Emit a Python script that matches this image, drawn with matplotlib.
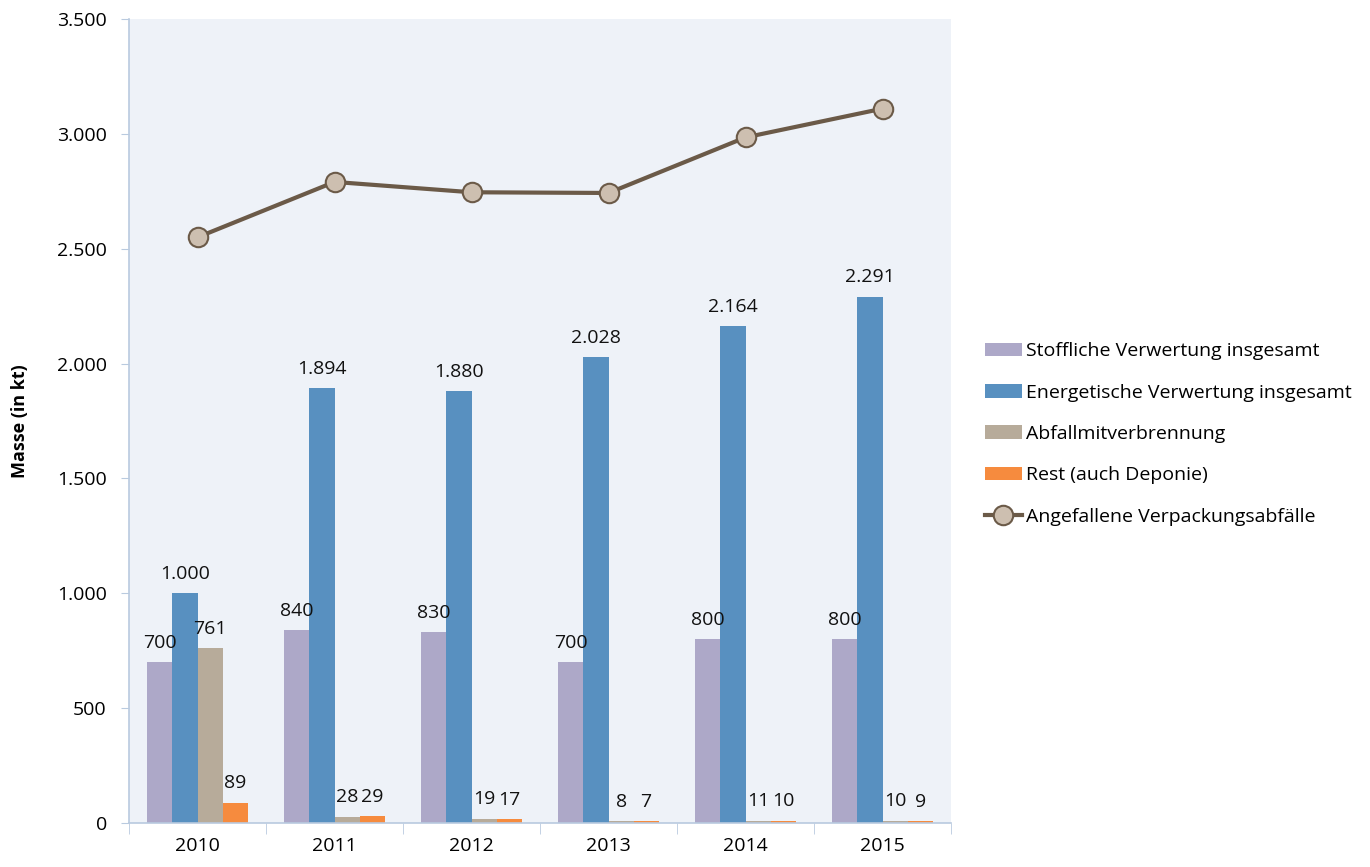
import numpy as np
import matplotlib.pyplot as plt
from matplotlib.ticker import FuncFormatter, FixedLocator

plt.rcParams['font.family'] = ['Open Sans', 'DejaVu Sans']

# data
years = ['2010', '2011', '2012', '2013', '2014', '2015']
stofflich = [700, 840, 830, 700, 800, 800]
energetisch = [1000, 1894, 1880, 2028, 2164, 2291]
abfallmit = [761, 28, 19, 8, 11, 10]
rest = [89, 29, 17, 7, 10, 9]
angefallen = [2550, 2791, 2746, 2743, 2985, 3110]

series = [
    ('Stoffliche Verwertung insgesamt', stofflich, '#ADA8C8'),
    ('Energetische Verwertung insgesamt', energetisch, '#5890C0'),
    ('Abfallmitverbrennung', abfallmit, '#B7AB9A'),
    ('Rest (auch Deponie)', rest, '#F68B3E'),
]
fs = 14

fig = plt.figure(figsize=(13.7, 8.67), dpi=100)
ax = fig.add_axes([0.0942, 0.0507, 0.6, 0.9273])
ax.set_facecolor('#EEF2F8')

x = np.arange(len(years))
w = 0.183
for k, (name, vals, col) in enumerate(series):
    pos = x + (k - 1.5) * w
    ax.bar(pos, vals, width=w, color=col, label=name, zorder=2)
    for p, v in zip(pos, vals):
        ax.text(p, v + 45, f'{v:,}'.replace(',', '.'), ha='center', va='bottom',
                fontsize=fs, color='#111111')

ax.plot(x, angefallen, color='#6B5A48', lw=3, marker='o', ms=14,
        markerfacecolor='#CDBFB0', markeredgecolor='#6B5A48', markeredgewidth=1.5,
        label='Angefallene Verpackungsabfälle', zorder=3)

ax.set_xlim(-0.5, 5.5)
ax.set_ylim(0, 3500)
ax.set_yticks(np.arange(0, 3501, 500))
ax.yaxis.set_major_formatter(FuncFormatter(lambda v, p: f'{int(v):,}'.replace(',', '.')))
ax.set_xticks(x)
ax.set_xticklabels(years)
ax.xaxis.set_minor_locator(FixedLocator(np.arange(-0.5, 6, 1)))
ax.tick_params(axis='x', which='major', length=0, labelsize=fs, pad=10)
ax.tick_params(axis='x', which='minor', length=8, color='#B9CADF', direction='out')
ax.tick_params(axis='y', length=6, color='#B9CADF', labelsize=fs, pad=10)

for s in ['top', 'right']:
    ax.spines[s].set_visible(False)
for s in ['left', 'bottom']:
    ax.spines[s].set_color('#B9CADF')
    ax.spines[s].set_linewidth(1.2)

ax.set_ylabel('Masse (in kt)', fontsize=13, fontweight='bold', labelpad=20)

h, l = ax.get_legend_handles_labels()
order = [1, 2, 3, 4, 0]
ax.legend([h[i] for i in order], [l[i] for i in order],
          loc='center left', bbox_to_anchor=(1.02, 0.484), frameon=False,
          fontsize=fs, handlelength=1.9, handletextpad=0.2, labelspacing=1.2)

plt.savefig('out.png', dpi=100)
